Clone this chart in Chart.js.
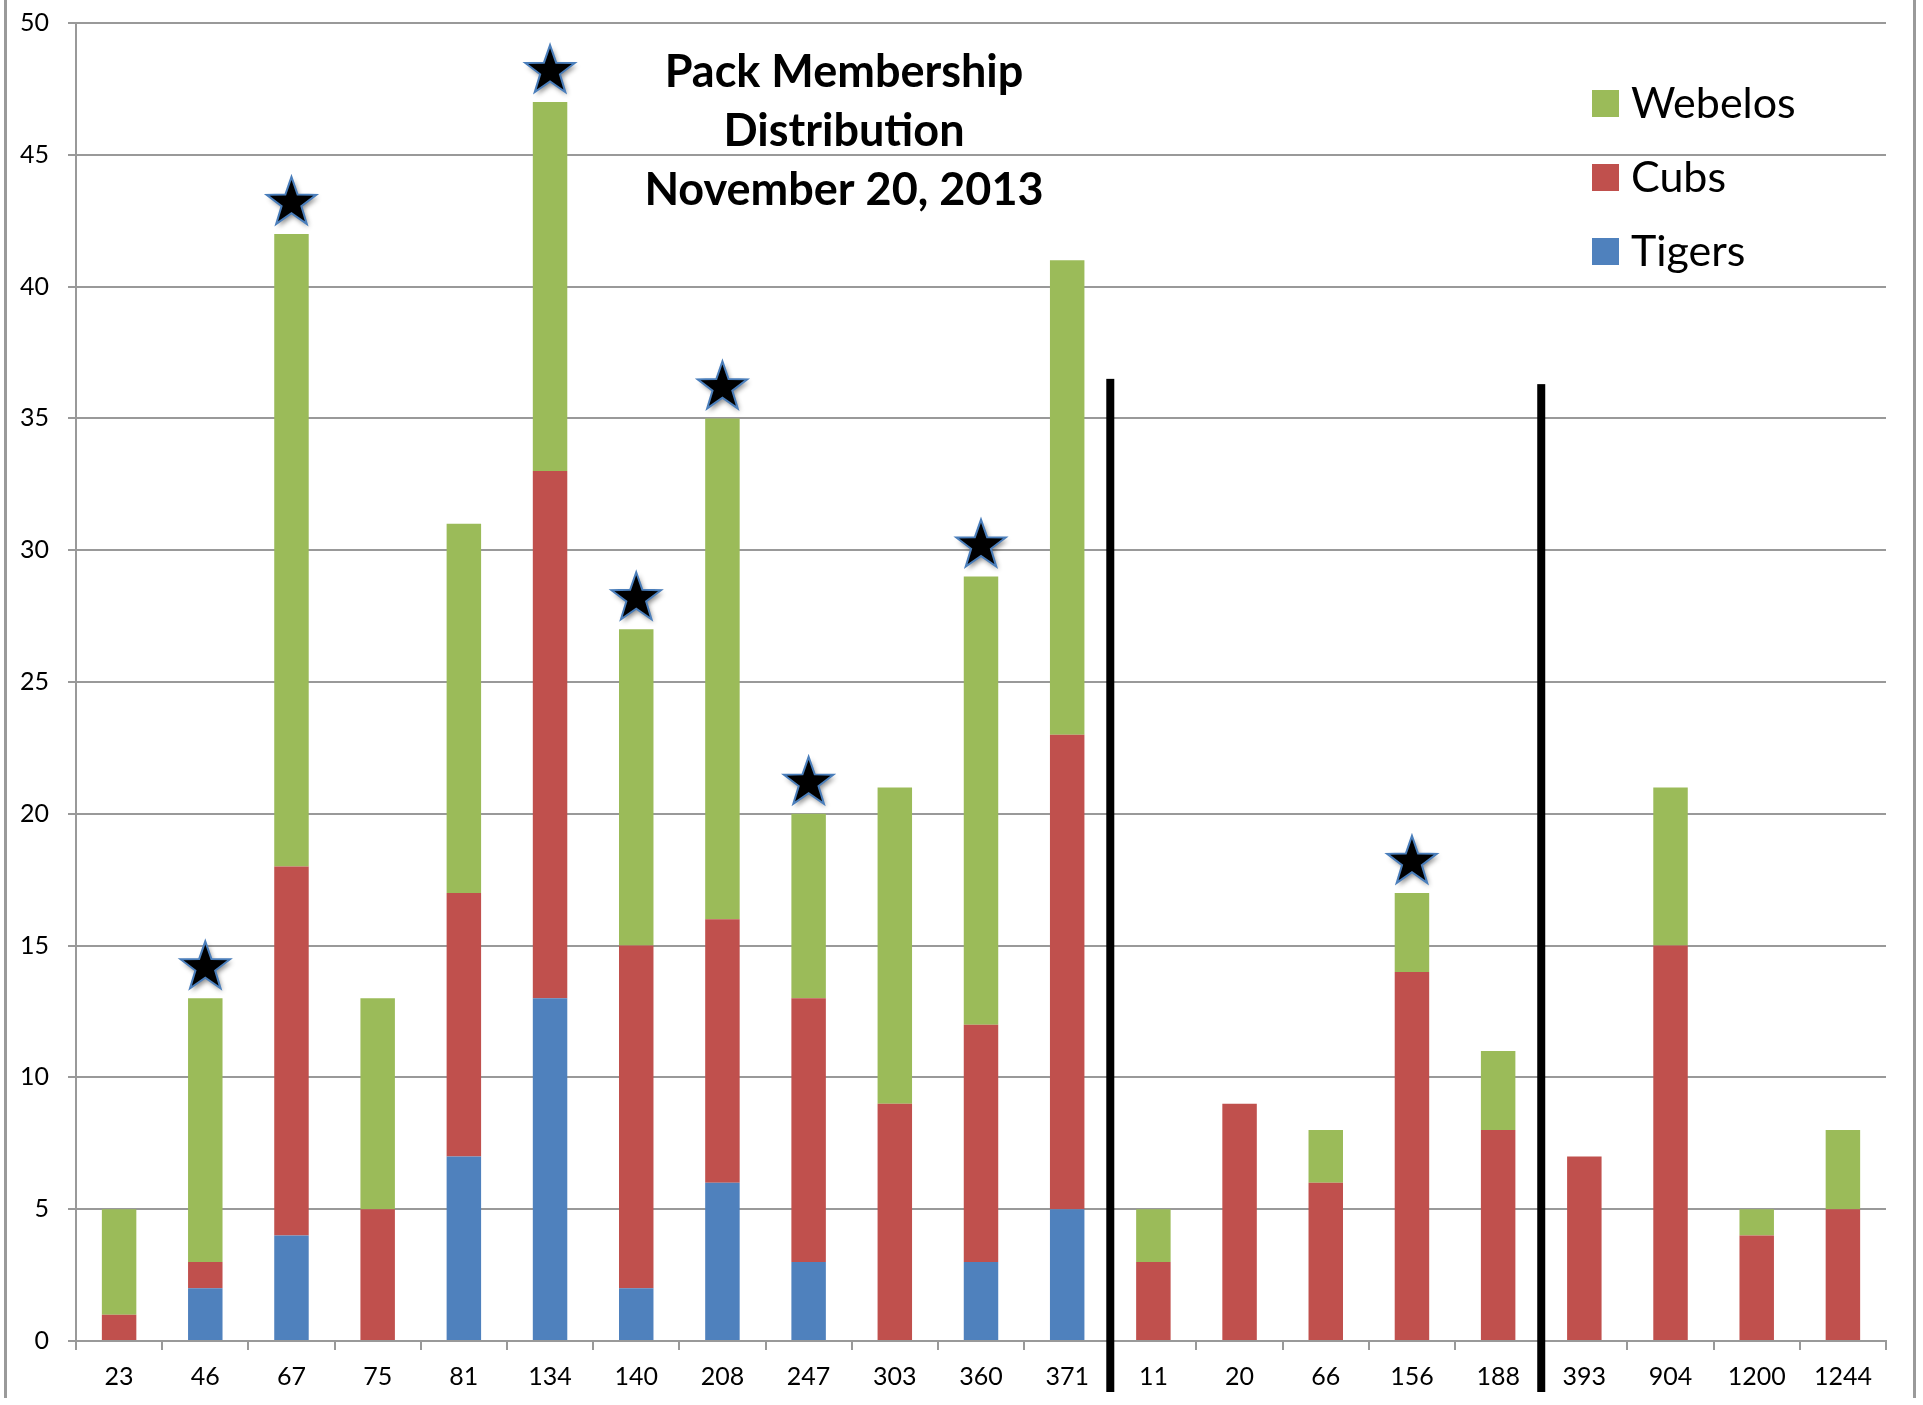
<!DOCTYPE html>
<html>
<head>
<meta charset="utf-8">
<script src="https://cdn.jsdelivr.net/npm/chart.js@4/dist/chart.umd.min.js"></script>
<style>
  html, body { margin: 0; padding: 0; background: #fff; }
  #wrap { position: relative; width: 1923px; height: 1405px; overflow: hidden; }
  #chart { position: absolute; left: 0; top: -11px; }
  #frame { position: absolute; left: 4px; top: 0; width: 1906px; height: 1398px;
           border-left: 3px solid #9a9a9a; border-right: 3px solid #9a9a9a; pointer-events: none; }
</style>
</head>
<body>
<div id="wrap">
  <canvas id="chart" width="1923" height="1416"></canvas>
  <div id="frame"></div>
</div>
<script>
const categories = ["23", "46", "67", "75", "81", "134", "140", "208", "247", "303", "360", "371",
  "11", "20", "66", "156", "188", "393", "904", "1200", "1244"]
const tigers  = [0, 2, 4, 0, 7, 13, 2, 6, 3, 0, 3, 5, 0, 0, 0, 0, 0, 0, 0, 0, 0]
const cubs    = [1, 1, 14, 5, 10, 20, 13, 10, 10, 9, 9, 18, 3, 9, 6, 14, 8, 7, 15, 4, 5]
const webelos = [4, 10, 24, 8, 14, 14, 12, 19, 7, 12, 17, 18, 2, 0, 2, 3, 3, 0, 6, 1, 3]

// dens marked with a star
const starred = ["46", "67", "134", "140", "208", "247", "360", "156"]
// black separators drawn after these categories, top at these values
const dividerAfter = ["371", "188"]
const dividerTop = [36.5, 36.3]

const titleLines = ["Pack Membership", "Distribution", "November 20, 2013"]

const colors = { Tigers: "#4F81BD", Cubs: "#C0504D", Webelos: "#9BBB59" }
const fontFamily = "Lato, 'Open Sans', sans-serif"
// canvas is shifted up by this much, overlay text uses page coordinates
const shiftY = 11

function drawStar(ctx, cx, cy, r) {
  ctx.save()
  ctx.beginPath()
  for (let i = 0; i < 10; i++) {
    const rad = i % 2 === 0 ? r : r * 0.4
    const a = -Math.PI / 2 + i * Math.PI / 5
    const px = cx + rad * Math.cos(a)
    const py = cy + rad * Math.sin(a)
    if (i === 0) ctx.moveTo(px, py)
    else ctx.lineTo(px, py)
  }
  ctx.closePath()
  ctx.shadowColor = "rgba(0,0,0,0.45)"
  ctx.shadowBlur = 5
  ctx.shadowOffsetX = 2
  ctx.shadowOffsetY = 3
  ctx.fillStyle = "#000"
  ctx.fill()
  ctx.shadowColor = "transparent"
  ctx.lineWidth = 2
  ctx.strokeStyle = "#4a7ebb"
  ctx.stroke()
  ctx.restore()
}

const overlayPlugin = {
  id: "overlay",
  afterDraw(chart) {
    const ctx = chart.ctx
    const x = chart.scales.x
    const y = chart.scales.y

    // separators
    dividerAfter.forEach((cat, i) => {
      const idx = categories.indexOf(cat)
      const px = (x.getPixelForValue(idx) + x.getPixelForValue(idx + 1)) / 2
      ctx.save()
      ctx.fillStyle = "#000"
      const top = y.getPixelForValue(dividerTop[i])
      ctx.fillRect(px - 4, top, 8, y.getPixelForValue(0) + 51 - top)
      ctx.restore()
    })

    // stars above selected bars
    starred.forEach(cat => {
      const idx = categories.indexOf(cat)
      const total = tigers[idx] + cubs[idx] + webelos[idx]
      drawStar(ctx, x.getPixelForValue(idx), y.getPixelForValue(total) - 31, 26)
    })

    // title
    ctx.save()
    ctx.fillStyle = "#000"
    ctx.font = "bold 45px " + fontFamily
    ctx.textAlign = "center"
    ctx.textBaseline = "middle"
    titleLines.forEach((line, i) => ctx.fillText(line, 844, 72 + shiftY + i * 59))
    ctx.restore()

    // legend, top series first
    ctx.save()
    ctx.font = "43px " + fontFamily
    ctx.textBaseline = "middle"
    const ds = chart.data.datasets.slice().reverse()
    ds.forEach((d, i) => {
      const cy = 103 + shiftY + i * 74
      ctx.fillStyle = d.backgroundColor
      ctx.fillRect(1592, cy - 13, 27, 27)
      ctx.fillStyle = "#000"
      ctx.fillText(d.label, 1631, cy + 1)
    })
    ctx.restore()
  }
}

new Chart(document.getElementById("chart"), {
  type: "bar",
  data: {
    labels: categories,
    datasets: [
      { label: "Tigers", data: tigers, backgroundColor: colors.Tigers },
      { label: "Cubs", data: cubs, backgroundColor: colors.Cubs },
      { label: "Webelos", data: webelos, backgroundColor: colors.Webelos }
    ]
  },
  options: {
    responsive: false,
    animation: false,
    devicePixelRatio: 1,
    barPercentage: 0.4,
    categoryPercentage: 1.0,
    layout: { padding: { left: 1, right: 37, top: 0, bottom: 1 } },
    plugins: {
      legend: { display: false },
      tooltip: { enabled: false }
    },
    scales: {
      x: {
        stacked: true,
        ticks: { color: "#000", font: { family: fontFamily, size: 25 }, padding: 12, autoSkip: false, maxRotation: 0 },
        grid: { drawOnChartArea: false, color: "#999", lineWidth: 2, tickLength: 9 },
        border: { color: "#999", width: 2 }
      },
      y: {
        stacked: true,
        min: 0,
        max: 50,
        ticks: { stepSize: 5, color: "#000", font: { family: fontFamily, size: 25 }, padding: 19 },
        grid: { color: "#999", lineWidth: 2, tickLength: 8 },
        border: { color: "#999", width: 2 }
      }
    }
  },
  plugins: [overlayPlugin]
})
</script>
</body>
</html>
